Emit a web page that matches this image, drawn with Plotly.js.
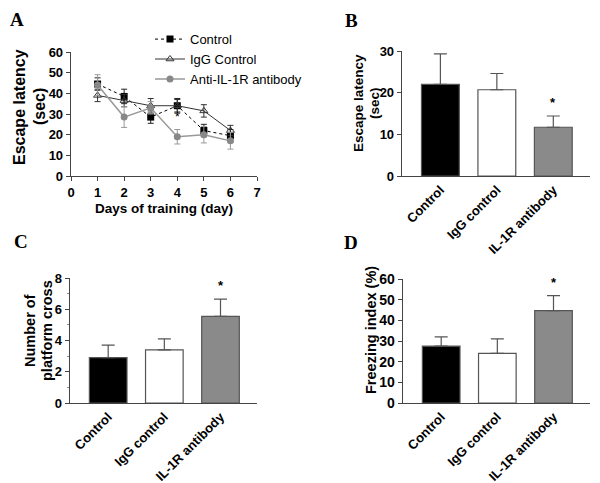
<!DOCTYPE html>
<html><head><meta charset="utf-8">
<script src="https://cdn.plot.ly/plotly-3.0.1.min.js"></script>
<style>html,body{margin:0;padding:0;background:#fff}#p{width:600px;height:483px}</style>
</head><body><div id="p"></div>
<script>
// Panel A data
const days = [1, 2, 3, 4, 5, 6];
const ctrlLat = [44.5, 38.5, 28.5, 34, 22, 19.5];
const ctrlErr = [3, 3.5, 3, 3.5, 3, 3];
const iggLat = [39, 36.5, 34, 34, 31.5, 22];
const iggErr = [3, 3, 3.5, 3, 3, 2.5];
const antiLat = [44, 28.5, 33, 19, 20, 17];
const antiErr = [5, 5, 3, 3.5, 4, 4];
const seriesNames = ['Control', 'IgG Control', 'Anti-IL-1R antibody'];

// Bar panels
const groups = ['Control', 'IgG control', 'IL-1R antibody'];
const latB = [22, 20.7, 11.7];
const latBErr = [7.3, 3.9, 2.7];
const crossC = [2.9, 3.4, 5.55];
const crossCErr = [0.8, 0.7, 1.1];
const freezeD = [27.5, 24, 44.7];
const freezeDErr = [4.5, 7, 7.3];
const barColors = ['#000000', '#ffffff', '#8a8a8a'];
const sigIdx = 2;

const F = 'Liberation Sans, Arial, sans-serif';
const pos = [0, 1, 2];

const traces = [
  {x: days, y: ctrlLat, name: seriesNames[0], type: 'scatter', mode: 'lines+markers',
   line: {color: '#000', width: 1, dash: 'dot'}, marker: {symbol: 'square', size: 7, color: '#000'},
   error_y: {type: 'data', array: ctrlErr, color: '#222', thickness: 1, width: 3}, xaxis: 'x', yaxis: 'y'},
  {x: days, y: iggLat, name: seriesNames[1], type: 'scatter', mode: 'lines+markers',
   line: {color: '#333', width: 1}, marker: {symbol: 'triangle-up-open', size: 7, color: '#333', line: {width: 1}},
   error_y: {type: 'data', array: iggErr, color: '#333', thickness: 1, width: 3}, xaxis: 'x', yaxis: 'y'},
  {x: days, y: antiLat, name: seriesNames[2], type: 'scatter', mode: 'lines+markers',
   line: {color: '#999', width: 1.5}, marker: {symbol: 'circle', size: 7, color: '#888'},
   error_y: {type: 'data', array: antiErr, color: '#999', thickness: 1, width: 3}, xaxis: 'x', yaxis: 'y'}
];

function barTrace(vals, errs, xa, ya) {
  return {x: pos, y: vals, type: 'bar', width: 0.67, showlegend: false,
    marker: {color: barColors, line: {color: '#555', width: 1.2}},
    error_y: {type: 'data', symmetric: false, array: errs, arrayminus: [0, 0, 0], color: '#555', thickness: 1.2, width: 6.5},
    xaxis: xa, yaxis: ya};
}
traces.push(barTrace(latB, latBErr, 'x2', 'y2'));
traces.push(barTrace(crossC, crossCErr, 'x3', 'y3'));
traces.push(barTrace(freezeD, freezeDErr, 'x4', 'y4'));

const bold = (s) => ({family: F, size: s, color: '#000', weight: 'bold'});
const axLine = {showline: true, linecolor: '#444', linewidth: 1.3, ticks: 'outside', ticklen: 4, tickcolor: '#444',
  showgrid: false, zeroline: false, automargin: false, tickfont: bold(13), fixedrange: true};

function catX(dom) {
  return Object.assign({}, axLine, {domain: dom, range: [-0.68, 2.65], tickvals: pos, ticktext: groups,
    tickangle: -45, ticks: '', tickfont: bold(13)});
}
const H = 483, W = 600;
const yd = (top, bot) => [1 - bot / H, 1 - top / H];

// paper-anchored text helper (pixel position -> paper fraction)
function ptext(text, px, py, font, angle) {
  return {text: text, x: px / W, y: 1 - py / H, xref: 'paper', yref: 'paper', showarrow: false,
    xanchor: 'center', yanchor: 'middle', textangle: angle || 0, font: font};
}
const serif = {family: 'Liberation Serif, Times New Roman, serif', size: 19, color: '#000', weight: 'bold'};

const layout = {
  width: 600, height: 483, margin: {l: 0, r: 0, t: 0, b: 0}, paper_bgcolor: '#fff', plot_bgcolor: '#fff',
  showlegend: true,
  legend: {x: 0.25, y: 0.95, xanchor: 'left', yanchor: 'top', font: {family: F, size: 13, color: '#000'},
    bgcolor: 'rgba(0,0,0,0)', tracegroupgap: 0, itemwidth: 30},
  xaxis: Object.assign({}, axLine, {domain: [71 / W, 257 / W], range: [0, 7], dtick: 1, anchor: 'y'}),
  yaxis: Object.assign({}, axLine, {domain: yd(52, 176), range: [0, 60], dtick: 10, anchor: 'x'}),
  xaxis2: Object.assign(catX([402 / W, 590 / W]), {anchor: 'y2'}),
  yaxis2: Object.assign({}, axLine, {domain: yd(51, 176), range: [0, 30], dtick: 10, anchor: 'x2'}),
  xaxis3: Object.assign(catX([70 / W, 257 / W]), {anchor: 'y3'}),
  yaxis3: Object.assign({}, axLine, {domain: yd(278, 403), range: [0, 8], dtick: 2, anchor: 'x3',
    minor: {dtick: 1, ticks: 'outside', ticklen: 2, tickcolor: '#888'}}),
  xaxis4: Object.assign(catX([403 / W, 590 / W]), {anchor: 'y4'}),
  yaxis4: Object.assign({}, axLine, {domain: yd(279, 403), range: [0, 60], dtick: 10, anchor: 'x4', tickfont: bold(14)}),
  annotations: [
    {text: '*', x: days[3], y: antiLat[3] + antiErr[3] + 1.5, xref: 'x', yref: 'y', showarrow: false, yanchor: 'bottom',
     font: {family: F, size: 12, color: '#000'}},
    {text: '*', x: pos[sigIdx], y: latB[sigIdx] + latBErr[sigIdx], xref: 'x2', yref: 'y2', showarrow: false, yanchor: 'bottom', yshift: 4,
     font: bold(13)},
    {text: '*', x: pos[sigIdx], y: crossC[sigIdx] + crossCErr[sigIdx], xref: 'x3', yref: 'y3', showarrow: false, yanchor: 'bottom', yshift: 4,
     font: bold(13)},
    {text: '*', x: pos[sigIdx], y: freezeD[sigIdx] + freezeDErr[sigIdx], xref: 'x4', yref: 'y4', showarrow: false, yanchor: 'bottom', yshift: 4,
     font: bold(13)},
    // axis titles
    ptext('Escape latency', 20, 107, bold(16), -90),
    ptext('(sec)', 40, 107, bold(16), -90),
    ptext('Days of training (day)', 164, 208, bold(13.5), 0),
    ptext('Escape latency', 358, 103, bold(13.5), -90),
    ptext('(sec)', 374, 103, bold(13.5), -90),
    ptext('Number of', 30, 331, bold(14.5), -90),
    ptext('platform cross', 47, 331, bold(14.5), -90),
    ptext('Freezing index (%)', 371, 330, bold(14.5), -90),
    // panel letters
    ptext('A', 17, 19, serif), ptext('B', 351, 21, serif), ptext('C', 21, 241, serif), ptext('D', 351, 242, serif)
  ]
};
Plotly.newPlot('p', traces, layout, {displayModeBar: false, staticPlot: true});
</script></body></html>
